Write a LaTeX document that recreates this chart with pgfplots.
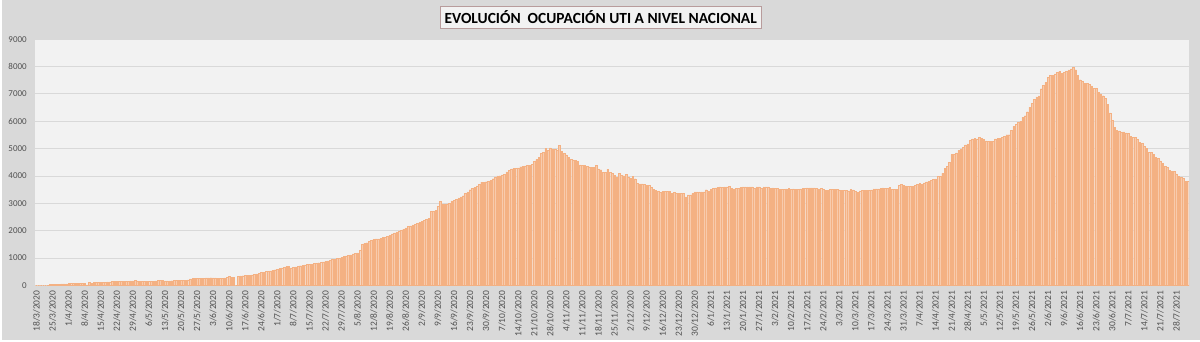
\documentclass[border=0pt]{standalone}
\usepackage{pgfplots}
\pgfplotsset{compat=1.18}
\usepackage{pgfplotstable}
\usepackage{fontspec}
\setmainfont{Carlito}
\definecolor{bgout}{HTML}{D9D9D9}
\definecolor{bgplot}{HTML}{F2F2F2}
\definecolor{barfill}{HTML}{F8CBAD}
\definecolor{barline}{HTML}{F4B183}
\definecolor{gridc}{HTML}{D9D9D9}
\definecolor{tickc}{HTML}{505050}
\definecolor{titleline}{HTML}{B89C9C}
\pgfplotstableread[header=false,row sep=\\]{
0\\0\\0\\0\\0\\0\\30\\
35\\40\\45\\48\\52\\55\\60\\
65\\70\\72\\75\\78\\80\\82\\
85\\20\\105\\70\\110\\115\\118\\
120\\125\\125\\128\\130\\140\\148\\
150\\155\\155\\158\\160\\160\\162\\
165\\175\\168\\160\\155\\152\\150\\
150\\152\\158\\165\\185\\190\\175\\
165\\168\\170\\172\\175\\180\\178\\
175\\180\\185\\200\\240\\250\\255\\
250\\255\\262\\265\\275\\278\\282\\
280\\275\\265\\268\\270\\275\\300\\
330\\300\\285\\0\\340\\345\\355\\
365\\370\\380\\390\\400\\420\\445\\
470\\490\\505\\520\\535\\555\\575\\
600\\620\\640\\660\\690\\700\\645\\
660\\680\\700\\720\\740\\750\\760\\
765\\780\\800\\815\\830\\845\\860\\
880\\900\\920\\945\\965\\985\\1000\\
1030\\1060\\1080\\1100\\1120\\1150\\1170\\
1190\\1280\\1500\\1540\\1560\\1600\\1650\\
1690\\1700\\1700\\1720\\1750\\1770\\1800\\
1840\\1880\\1920\\1960\\1990\\2020\\2060\\
2100\\2150\\2180\\2210\\2240\\2280\\2310\\
2350\\2390\\2420\\2460\\2720\\2720\\2740\\
2890\\3070\\2960\\2960\\2980\\3000\\3090\\
3100\\3150\\3200\\3240\\3280\\3370\\3420\\
3500\\3560\\3590\\3640\\3690\\3780\\3780\\
3790\\3800\\3830\\3900\\3960\\4000\\4010\\
4040\\4070\\4150\\4200\\4260\\4290\\4290\\
4300\\4340\\4350\\4370\\4380\\4400\\4420\\
4540\\4600\\4680\\4820\\4870\\5020\\4930\\
5030\\4970\\4970\\4930\\5120\\4910\\4840\\
4770\\4670\\4600\\4590\\4580\\4540\\4410\\
4400\\4385\\4350\\4330\\4320\\4310\\4385\\
4260\\4230\\4140\\4140\\4240\\4140\\4100\\
4020\\3960\\4100\\4020\\4010\\4055\\3960\\
3930\\3980\\3900\\3740\\3715\\3715\\3690\\
3670\\3655\\3590\\3520\\3470\\3450\\3400\\
3435\\3435\\3435\\3435\\3360\\3400\\3360\\
3360\\3360\\3360\\3240\\3310\\3310\\3360\\
3420\\3420\\3420\\3420\\3420\\3500\\3435\\
3510\\3545\\3570\\3590\\3605\\3580\\3605\\
3605\\3620\\3545\\3530\\3555\\3555\\3580\\
3605\\3605\\3605\\3605\\3605\\3555\\3605\\
3605\\3555\\3605\\3605\\3605\\3545\\3570\\
3545\\3545\\3520\\3520\\3510\\3530\\3545\\
3520\\3530\\3520\\3520\\3530\\3545\\3555\\
3570\\3570\\3570\\3570\\3545\\3530\\
3540\\3505\\3470\\3480\\3505\\3517\\3517\\
3517\\3490\\3480\\3480\\3470\\3455\\3505\\
3490\\3430\\3410\\3455\\3470\\3470\\3470\\
3470\\3490\\3530\\3530\\3530\\3540\\3565\\
3555\\3555\\3580\\3505\\3505\\3505\\3650\\
3690\\3650\\3640\\3625\\3625\\3625\\3650\\
3690\\3725\\3700\\3750\\3785\\3810\\3845\\
3880\\3895\\3980\\3980\\4100\\4285\\4345\\
4490\\4780\\4795\\4845\\4940\\4990\\5040\\
5135\\5170\\5295\\5355\\5370\\5355\\5415\\
5380\\5330\\5280\\5255\\5255\\5270\\5355\\
5370\\5380\\5415\\5450\\5510\\5510\\5670\\
5815\\5890\\5965\\6000\\6145\\6205\\6350\\
6520\\6645\\6805\\6890\\6925\\7190\\7325\\
7425\\7605\\7690\\7680\\7730\\7790\\7825\\
7765\\7790\\7815\\7875\\7920\\7970\\7885\\
7680\\7520\\7460\\7375\\7375\\7340\\7290\\
7215\\7205\\7060\\7000\\6935\\6850\\6630\\
6305\\6025\\5770\\5660\\5645\\5600\\5610\\
5580\\5550\\5450\\5415\\5415\\5330\\5235\\
5195\\5085\\5000\\4870\\4870\\4780\\4675\\
4635\\4550\\4465\\4345\\4310\\4200\\4160\\
4160\\4075\\3990\\3955\\3905\\3810\\3810\\
}\uti
\begin{document}
\begin{tikzpicture}[x=1pt,y=1pt]
\fill[bgout] (0,0) rectangle (1200,341);
\begin{axis}[
  at={(33pt,55pt)}, anchor=south west,
  width=1156pt, height=246.7pt, scale only axis,
  xmin=-0.5, xmax=502.5, ymin=0, ymax=9000,
  axis background/.style={fill=bgplot},
  axis line style={draw=none},
  ymajorgrids, grid style={gridc, line width=0.9pt},
  ytick={0,1000,...,9000},
  xtick={0,7,...,497},
  xticklabels={18/3/2020,25/3/2020,1/4/2020,8/4/2020,15/4/2020,22/4/2020,29/4/2020,6/5/2020,13/5/2020,20/5/2020,27/5/2020,3/6/2020,10/6/2020,17/6/2020,24/6/2020,1/7/2020,8/7/2020,15/7/2020,22/7/2020,29/7/2020,5/8/2020,12/8/2020,19/8/2020,26/8/2020,2/9/2020,9/9/2020,16/9/2020,23/9/2020,30/9/2020,7/10/2020,14/10/2020,21/10/2020,28/10/2020,4/11/2020,11/11/2020,18/11/2020,25/11/2020,2/12/2020,9/12/2020,16/12/2020,23/12/2020,30/12/2020,6/1/2021,13/1/2021,20/1/2021,27/1/2021,3/2/2021,10/2/2021,17/2/2021,24/2/2021,3/3/2021,10/3/2021,17/3/2021,24/3/2021,31/3/2021,7/4/2021,14/4/2021,21/4/2021,28/4/2021,5/5/2021,12/5/2021,19/5/2021,26/5/2021,2/6/2021,9/6/2021,16/6/2021,23/6/2021,30/6/2021,7/7/2021,14/7/2021,21/7/2021,28/7/2021},
  major tick length=0pt,
  x tick label style={rotate=90, anchor=east, font=\fontsize{9.5}{10}\selectfont, text=tickc, inner xsep=5pt, inner ysep=0pt},
  y tick label style={font=\fontsize{9}{10}\selectfont, text=tickc, inner xsep=8.5pt},
  /pgf/number format/1000 sep={},
  /pgf/number format/assume math mode=true,
  ybar, bar width=1.6pt,
]
\addplot[fill=barfill, draw=barline, line width=0.35pt] table[x expr=\coordindex, y index=0] {\uti};
\end{axis}
\node[draw=titleline, fill=bgplot, font=\bfseries\fontsize{15.5}{18}\selectfont, minimum height=22pt, inner xsep=4pt, inner ysep=0pt] at (599.5,324) {EVOLUCIÓN\ \ OCUPACIÓN UTI A NIVEL NACIONAL};
\end{tikzpicture}
\end{document}
